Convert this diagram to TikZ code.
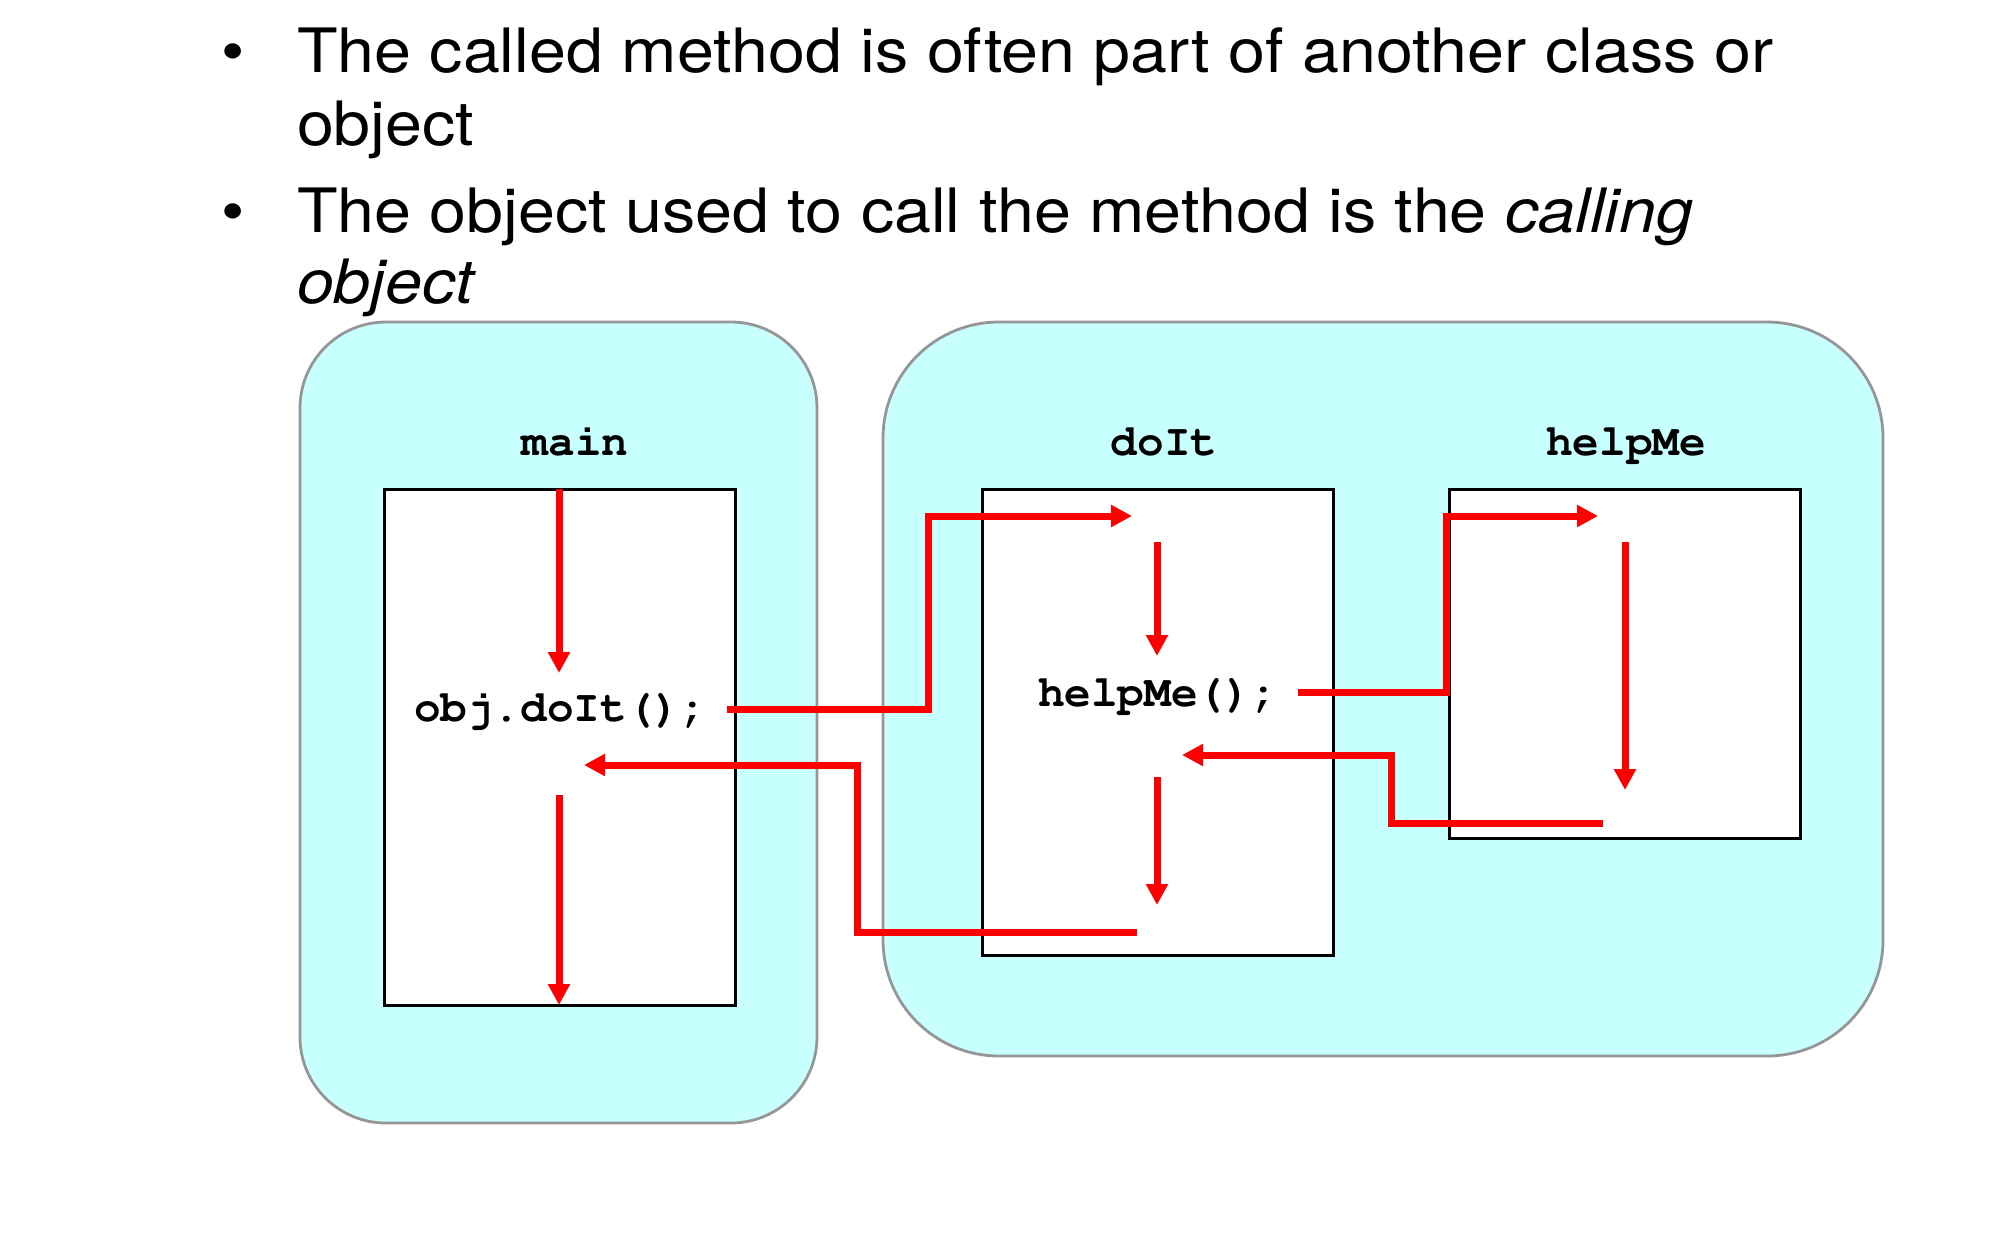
\documentclass[tikz,border=0pt]{standalone}
\usepackage[T1]{fontenc}
\usepackage{fontspec}
\setmainfont{TeX Gyre Heros}[FakeStretch=1.085]
\usetikzlibrary{arrows.meta}
\newcommand{\codefont}{\fontencoding{T1}\fontfamily{pcr}\fontseries{b}\fontshape{n}\fontsize{22.2pt}{26pt}\selectfont}
\definecolor{boxfill}{HTML}{C8FFFF}
\definecolor{boxline}{HTML}{969696}
\definecolor{flowred}{HTML}{FF0000}
\begin{document}
\begin{tikzpicture}[x=0.5pt,y=-0.5pt,
  txt/.style={inner sep=0pt, outer sep=0pt, font=\fontsize{30.6pt}{36pt}\selectfont},
  bul/.style={inner sep=0pt, outer sep=0pt, font=\fontsize{30.6pt}{36pt}\selectfont},
  region/.style={draw=boxline, line width=1.4pt, fill=boxfill, inner sep=0pt, outer sep=0pt, anchor=north west},
  frame/.style={draw=black, line width=1.5pt, fill=white, inner sep=0pt, outer sep=0pt, anchor=north west},
  lbl/.style={inner sep=0pt, outer sep=0pt, font=\codefont, anchor=base},
  code/.style={inner sep=0pt, outer sep=0pt, font=\codefont, anchor=base west},
  flow/.style={draw=flowred, line width=3.5pt, line join=miter, line cap=butt,
    -{Triangle[length=10.5pt,width=10.5pt]}}
]
\useasboundingbox (0,0) rectangle (2000,1239);

% bullet text
\node[bul, anchor=base] (b1) at (233,72) {•};
\node[txt, anchor=base west] (l1) at (297,72) {The called method is often part of another class or};
\node[txt, anchor=base west] (l2) at (297,145) {object};
\node[bul, anchor=base] (b2) at (233,232) {•};
\node[txt, anchor=base west] (l3) at (297,232) {The object used to call the method is the \textit{calling}};
\node[txt, anchor=base west] (l4) at (297,303) {\textit{object}};

% regions
\node[region, rounded corners=43pt, minimum width=258.5pt, minimum height=400.5pt] (mainregion) at (300,322) {};
\node[region, rounded corners=58pt, minimum width=500pt, minimum height=367pt] (objregion) at (883,322) {};

% method frames
\node[frame, minimum width=175.5pt, minimum height=258pt] (mainframe) at (384,489) {};
\node[frame, minimum width=175.5pt, minimum height=233pt] (doitframe) at (982,489) {};
\node[frame, minimum width=175.5pt, minimum height=174.5pt] (helpframe) at (1449,489) {};

% labels
\node[lbl] (mainlbl) at (575,455) {main};
\node[lbl] (doitlbl) at (1164,455) {doIt};
\node[lbl] (helplbl) at (1626,455) {helpMe};

% code
\node[code] (callone) at (414,721) {obj.doIt();};
\node[code] (calltwo) at (1038,706) {helpMe();};

% flow coordinates
\coordinate (m1s) at (559,489);
\coordinate (m1e) at (559,673);
\coordinate (m2s) at (559,795);
\coordinate (m2e) at (559,1005);
\coordinate (c1s) at (727,709);
\coordinate (c1a) at (928,709);
\coordinate (c1b) at (928,516);
\coordinate (c1e) at (1132,516);
\coordinate (r1s) at (1137,932);
\coordinate (r1a) at (857,932);
\coordinate (r1b) at (857,765);
\coordinate (r1e) at (584,765);
\coordinate (d1s) at (1157,542);
\coordinate (d1e) at (1157,656);
\coordinate (d2s) at (1157,777);
\coordinate (d2e) at (1157,905);
\coordinate (c2s) at (1298,692);
\coordinate (c2a) at (1446,692);
\coordinate (c2b) at (1446,516);
\coordinate (c2e) at (1598,516);
\coordinate (h1s) at (1625,542);
\coordinate (h1e) at (1625,790);
\coordinate (r2s) at (1603,823);
\coordinate (r2a) at (1391,823);
\coordinate (r2b) at (1391,755);
\coordinate (r2e) at (1182,755);

% flows
\draw[flow] (m1s) -- (m1e);
\draw[flow] (m2s) -- (m2e);
\draw[flow] (c1s) -- (c1a) -- (c1b) -- (c1e);
\draw[flow] (r1s) -- (r1a) -- (r1b) -- (r1e);
\draw[flow] (d1s) -- (d1e);
\draw[flow] (d2s) -- (d2e);
\draw[flow] (c2s) -- (c2a) -- (c2b) -- (c2e);
\draw[flow] (h1s) -- (h1e);
\draw[flow] (r2s) -- (r2a) -- (r2b) -- (r2e);
\end{tikzpicture}
\end{document}
